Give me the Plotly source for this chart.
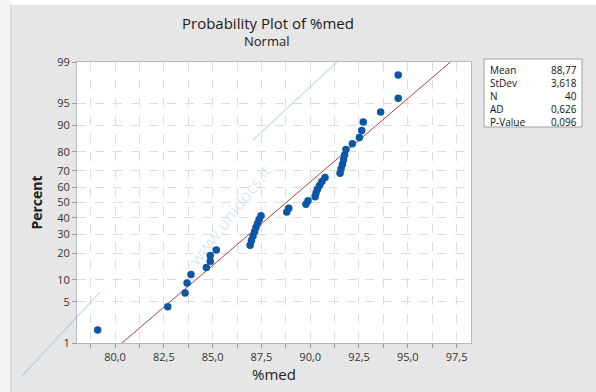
import plotly.graph_objects as go
from statistics import NormalDist

# ---- data (sorted %med observations) ----
med_values = [79.11, 82.70, 83.59, 83.69, 83.89, 84.68, 84.88, 84.88, 85.19, 86.92,
              86.99, 87.07, 87.15, 87.22, 87.30, 87.38, 87.48, 88.80, 88.90, 89.78,
              89.89, 90.25, 90.30, 90.37, 90.48, 90.60, 90.76, 91.53, 91.58, 91.65,
              91.71, 91.76, 91.83, 92.16, 92.52, 92.64, 92.72, 93.61, 94.51, 94.51]
stat_labels = ["Mean", "StDev", "N", "AD", "P-Value"]
stat_values = ["88,77", "3,618", "40", "0,626", "0,096"]
mean_val = 88.77
sd_val = 3.618
pct_ticks = [1, 5, 10, 20, 30, 40, 50, 60, 70, 80, 90, 95, 99]

nd = NormalDist()
n = len(med_values)
z_pts = [nd.inv_cdf((i + 1 - 0.3) / (n + 0.4)) for i in range(n)]
z_ticks = [nd.inv_cdf(p / 100) for p in pct_ticks]
z_lo, z_hi = nd.inv_cdf(0.01), nd.inv_cdf(0.99)
line_z = [z_lo, z_hi]
line_x = [mean_val + sd_val * z for z in line_z]

W, H = 596, 392
L, R, T, B = 77, 125, 62, 49
pw, ph = W - L - R, H - T - B

def px(x):
    return (x - L) / pw

def py(y):
    return (H - B - y) / ph

fig = go.Figure()
fig.add_trace(go.Scatter(x=line_x, y=line_z, mode="lines",
                         line=dict(color="#b5403c", width=1), hoverinfo="skip",
                         showlegend=False))
fig.add_trace(go.Scatter(x=med_values, y=z_pts, mode="markers",
                         marker=dict(color="#0b56a6", size=7.5), showlegend=False))

grid = dict(showgrid=True, gridcolor="#dcdcdc", griddash="dash", gridwidth=1)
fig.update_xaxes(range=[78.05, 98.24], tick0=80, dtick=2.5, tickformat=".1f",
                 ticks="outside", ticklen=4, tickcolor="#9a9a9a",
                 minor=dict(dtick=1.25, tick0=78.75, ticks="outside", ticklen=4,
                            tickcolor="#9a9a9a", showgrid=True, gridcolor="#dcdcdc",
                            griddash="dash"),
                 showline=True, linecolor="#b8b8b8", mirror=True, zeroline=False,
                 tickfont=dict(size=11, color="#333333"),
                 title=dict(text="%med", font=dict(size=15, color="#222222"), standoff=3),
                 **grid)
fig.update_yaxes(range=[z_lo, z_hi], tickvals=z_ticks, ticktext=[str(p) for p in pct_ticks],
                 ticks="outside", ticklen=4, tickcolor="#9a9a9a",
                 showline=True, linecolor="#b8b8b8", mirror=True, zeroline=False,
                 tickfont=dict(size=11, color="#333333"),
                 title=dict(text="<b>Percent</b>", font=dict(size=14, color="#222222"), standoff=11),
                 **grid)

wm = "rgba(140,185,230,0.45)"
shapes = [
    dict(type="rect", xref="paper", yref="paper", x0=px(0), x1=px(11), y0=py(392), y1=py(0),
         fillcolor="#f2f2f2", line=dict(width=0), layer="below"),
    dict(type="line", xref="paper", yref="paper", x0=px(11), x1=px(11), y0=py(392), y1=py(5),
         line=dict(color="#c8c8c8", width=1), layer="below"),
    dict(type="rect", xref="paper", yref="paper", x0=px(11), x1=px(596), y0=py(5), y1=py(0),
         fillcolor="#ffffff", line=dict(width=0), layer="below"),
    dict(type="line", xref="paper", yref="paper", x0=px(253), x1=px(337), y0=py(140), y1=py(62),
         line=dict(color=wm, width=1.5)),
    dict(type="line", xref="paper", yref="paper", x0=px(22), x1=px(100), y0=py(376), y1=py(292),
         line=dict(color=wm, width=1.5)),
    dict(type="rect", xref="paper", yref="paper", x0=px(484), x1=px(582), y0=py(127), y1=py(59),
         fillcolor="#ffffff", line=dict(color="#a0a0a0", width=1)),
]

annotations = [
    dict(text="Probability Plot of %med", x=px(268), y=py(34), xref="paper", yref="paper",
         yanchor="bottom", borderpad=0,
         showarrow=False, font=dict(size=15, color="#1a1a1a", family="Open Sans")),
    dict(text="Normal", x=px(266), y=py(31), xref="paper", yref="paper",
         yanchor="top", borderpad=0,
         showarrow=False, font=dict(size=13, color="#1a1a1a", family="Open Sans")),
    dict(text="www.unidocs.it", x=px(180), y=py(215), xref="paper", yref="paper",
         showarrow=False, textangle=-52, font=dict(size=17, color="rgba(120,170,220,0.28)")),
    dict(text="<br>".join(stat_labels), x=px(489), y=py(62), xref="paper", yref="paper",
         xanchor="left", yanchor="top", align="left", showarrow=False, borderpad=0,
         font=dict(size=10, color="#111111")),
    dict(text="<br>".join(stat_values), x=px(578), y=py(62), xref="paper", yref="paper",
         xanchor="right", yanchor="top", align="right", showarrow=False, borderpad=0,
         font=dict(size=10, color="#111111")),
]

fig.update_layout(width=W, height=H, margin=dict(l=L, r=R, t=T, b=B),
                  paper_bgcolor="#e6e6e6", plot_bgcolor="#ffffff",
                  separators=",.", font=dict(family="Open Sans"),
                  shapes=shapes, annotations=annotations)

fig.write_html("out.html", config={"displayModeBar": False},
               post_script="document.body.style.margin='0';")
